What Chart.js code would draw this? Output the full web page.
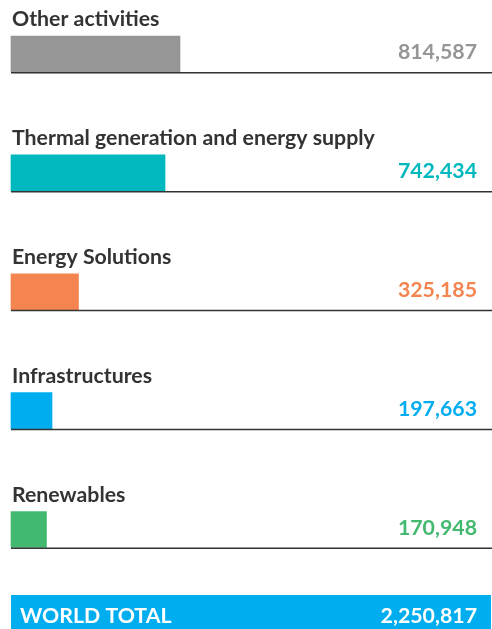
<!DOCTYPE html>
<html>
<head>
<meta charset="utf-8">
<script src="https://cdn.jsdelivr.net/npm/chart.js@4/dist/chart.umd.min.js"></script>
<style>
  html, body { margin: 0; padding: 0; background: #ffffff; }
  #wrap { width: 492px; height: 629px; position: relative; }
</style>
</head>
<body>
<div id="wrap"><canvas id="chart" width="492" height="629"></canvas></div>
<script>
// Activity breakdown, ordered top to bottom
const categories = [
  'Other activities',
  'Thermal generation and energy supply',
  'Energy Solutions',
  'Infrastructures',
  'Renewables'
];
const values = [814587, 742434, 325185, 197663, 170948];
const barColors = ['#969696', '#00B8BE', '#F58550', '#00AEEF', '#43B970'];
const totalLabel = 'WORLD TOTAL';
const totalValue = 2250817;
const totalColor = '#00AEEF';

const fmt = v => v.toLocaleString('en-US');
const FONT = 'Lato, "Open Sans", sans-serif';
const TEXT_FONT = 'bold 21.3px ' + FONT;

// Draws the category captions, the value labels, the rule under each row
// and the total band at the bottom.
const rowDecorations = {
  id: 'rowDecorations',
  afterDatasetsDraw(chart) {
    const ctx = chart.ctx;
    const area = chart.chartArea;
    const xScale = chart.scales.x;
    const meta = chart.getDatasetMeta(0);
    const right = xScale.getPixelForValue(totalValue) - 1;
    ctx.save();
    meta.data.forEach((bar, i) => {
      const top = bar.y - bar.height / 2;
      const bottom = bar.y + bar.height / 2;
      // rule under the row
      ctx.strokeStyle = '#333333';
      ctx.lineWidth = 1.6;
      ctx.beginPath();
      ctx.moveTo(area.left, bottom + 0.8);
      ctx.lineTo(chart.width, bottom + 0.8);
      ctx.stroke();
      // caption
      ctx.font = TEXT_FONT;
      ctx.fillStyle = '#333333';
      ctx.textAlign = 'left';
      ctx.textBaseline = 'alphabetic';
      ctx.fillText(categories[i], area.left + 1, top - 10);
      // value
      ctx.fillStyle = barColors[i];
      ctx.textAlign = 'right';
      ctx.fillText(fmt(values[i]), right, bottom - 13);
    });
    // total band
    const bandTop = 595;
    ctx.fillStyle = totalColor;
    ctx.fillRect(area.left, bandTop, chart.width - 1 - area.left, chart.height - bandTop);
    ctx.fillStyle = '#ffffff';
    ctx.font = TEXT_FONT;
    ctx.textAlign = 'left';
    ctx.fillText(totalLabel, area.left + 9, 623);
    ctx.textAlign = 'right';
    ctx.fillText(fmt(totalValue), right, 623);
    ctx.restore();
  }
};

new Chart(document.getElementById('chart'), {
  type: 'bar',
  data: {
    labels: categories,
    datasets: [{
      data: values,
      backgroundColor: barColors,
      borderWidth: 0,
      barThickness: 36,
      clip: false
    }]
  },
  options: {
    indexAxis: 'y',
    responsive: false,
    animation: false,
    layout: { padding: { left: 11, right: 14, top: 54, bottom: 99.5 } },
    scales: {
      x: { display: false, min: 0, max: totalValue },
      y: { display: false, offset: false }
    },
    plugins: {
      legend: { display: false },
      tooltip: { enabled: false }
    }
  },
  plugins: [rowDecorations]
});
</script>
</body>
</html>
